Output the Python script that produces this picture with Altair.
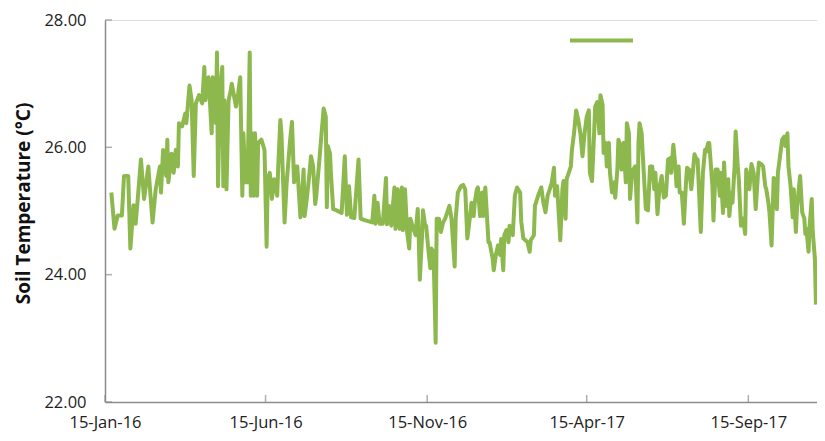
import altair as alt
import pandas as pd

# Days since 15-Jan-2016 and daily soil temperature (°C)
days = [6, 9, 12, 16, 18, 22, 24, 27, 29, 31, 34, 37, 41, 45, 48, 52, 53, 55, 58, 59,
        60, 63, 65, 67, 69, 70, 73, 76, 77, 80, 82, 84, 86, 89, 92, 94, 95, 98, 101, 102,
        105, 106, 107, 109, 111, 112, 113, 115, 117, 119, 120, 124, 126, 128, 130, 131, 133, 135, 137, 138,
        139, 141, 142, 144, 145, 148, 151, 153, 154, 156, 158, 160, 163, 164, 166, 167, 170, 172, 175, 177,
        179, 180, 182, 185, 186, 188, 189, 191, 193, 195, 197, 199, 200, 203, 205, 207, 209, 210, 211, 213,
        214, 216, 218, 224, 227, 229, 231, 233, 236, 240, 242, 245, 253, 255, 256, 258, 260, 263, 266, 267,
        269, 271, 274, 275, 277, 279, 281, 282, 284, 286, 288, 289, 292, 294, 296, 297, 298, 300, 301, 303,
        304, 306, 308, 309, 311, 313, 314, 316, 318, 320, 322, 324, 326, 328, 331, 332, 334, 337, 339, 341,
        343, 346, 347, 349, 350, 352, 353, 355, 357, 358, 360, 363, 364, 367, 368, 370, 372, 374, 375, 377,
        378, 380, 382, 383, 386, 388, 390, 393, 394, 396, 398, 400, 402, 403, 406, 407, 410, 413, 415, 417,
        419, 421, 423, 425, 426, 428, 431, 433, 434, 436, 437, 439, 441, 442, 444, 446, 448, 450, 452, 454,
        456, 458, 459, 461, 463, 464, 466, 468, 469, 471, 472, 474, 475, 477, 478, 480, 482, 483, 485, 486,
        488, 489, 491, 493, 494, 496, 497, 499, 500, 502, 504, 505, 506, 508, 510, 512, 514, 516, 518, 520,
        521, 523, 525, 527, 529, 531, 533, 535, 536, 538, 540, 541, 543, 544, 546, 548, 550, 551, 553, 555,
        557, 558, 560, 561, 564, 566, 568, 569, 571, 572, 575, 576, 578, 580, 582, 583, 585, 586, 588, 590,
        591, 593, 594, 596, 597, 599, 600, 602, 604, 606, 607, 609, 610, 612, 614, 616, 618, 619, 621, 623,
        625, 626, 628, 629, 631, 633, 634, 636, 637, 639, 641, 643, 644, 646, 647, 649, 651, 652, 654, 655,
        657, 658, 660, 662, 663, 664, 666, 667, 669, 670, 672, 673]

temps = [25.29, 24.72, 24.93, 24.93, 25.55, 25.55, 24.41, 25.09, 24.80, 25.19, 25.81, 25.19, 25.70, 24.82, 25.34, 25.70, 25.29, 25.96, 25.55, 26.12,
         25.45, 25.90, 25.60, 25.96, 25.70, 26.38, 26.33, 26.53, 26.38, 26.97, 26.74, 25.55, 26.69, 26.82, 26.69, 27.26, 26.74, 27.10, 26.22, 27.10,
         26.38, 27.49, 25.39, 26.95, 27.26, 25.39, 26.74, 25.34, 26.74, 26.89, 27.00, 26.64, 26.84, 27.10, 25.24, 26.22, 25.45, 25.45, 27.49, 25.24,
         26.22, 25.24, 26.22, 25.24, 26.07, 26.12, 25.96, 24.44, 25.50, 25.60, 25.19, 25.50, 25.24, 25.70, 26.43, 26.22, 24.82, 25.45, 26.07, 26.40,
         25.45, 25.70, 25.70, 24.90, 25.08, 25.65, 24.92, 25.19, 25.50, 25.86, 25.70, 25.11, 25.24, 25.81, 26.22, 26.61, 26.48, 25.06, 26.02, 25.90,
         25.55, 25.03, 25.02, 24.97, 25.86, 24.94, 25.39, 24.90, 24.89, 25.81, 24.88, 24.86, 24.82, 25.24, 24.80, 25.13, 24.80, 24.80, 25.52, 24.79,
         25.08, 24.77, 25.37, 24.72, 25.34, 24.72, 25.37, 24.70, 25.34, 24.67, 24.41, 24.88, 24.72, 24.62, 25.03, 24.56, 23.92, 24.56, 25.01, 24.77,
         24.77, 24.41, 24.10, 24.41, 24.36, 22.93, 24.88, 24.88, 24.67, 24.82, 24.88, 24.98, 25.08, 24.88, 24.13, 24.88, 25.29, 25.39, 25.41, 25.34,
         24.57, 24.98, 25.13, 24.92, 25.13, 25.34, 25.37, 24.92, 25.29, 24.92, 25.37, 24.51, 24.51, 24.25, 24.07, 24.31, 24.46, 24.31, 24.56, 24.07,
         24.62, 24.70, 24.51, 24.77, 24.62, 25.24, 25.37, 25.29, 24.84, 24.57, 24.54, 24.51, 24.36, 24.54, 24.62, 25.08, 25.24, 25.37, 25.13, 24.98,
         25.24, 25.34, 25.45, 25.68, 25.24, 25.39, 24.54, 25.34, 25.47, 24.88, 25.50, 25.60, 25.70, 25.96, 26.22, 26.58, 26.43, 26.22, 25.86, 26.22,
         26.48, 26.58, 25.60, 25.47, 26.22, 26.64, 26.71, 26.22, 26.82, 26.67, 25.91, 26.07, 25.70, 26.07, 25.60, 25.29, 25.45, 25.21, 25.65, 26.12,
         26.02, 25.65, 26.07, 25.45, 26.38, 26.22, 25.19, 25.60, 25.65, 25.70, 24.82, 26.07, 26.38, 26.22, 25.60, 25.03, 25.01, 25.70, 25.70, 25.34,
         25.60, 24.95, 25.39, 25.55, 25.21, 25.24, 25.81, 25.83, 25.60, 26.04, 25.70, 25.39, 25.70, 25.29, 25.29, 24.80, 25.45, 25.68, 25.65, 25.34,
         25.70, 25.89, 25.81, 25.81, 24.67, 25.60, 25.96, 25.93, 26.07, 26.07, 25.39, 24.85, 25.65, 25.65, 25.24, 25.60, 24.97, 25.76, 25.08, 25.50,
         24.92, 25.29, 25.13, 25.70, 26.25, 25.70, 25.50, 24.77, 24.88, 24.64, 25.65, 25.50, 25.34, 25.74, 25.60, 25.03, 25.55, 25.76, 25.74, 25.70,
         25.39, 25.34, 25.13, 24.98, 24.46, 25.52, 25.50, 25.03, 25.60, 25.86, 26.12, 26.17, 26.02, 26.22, 25.70, 25.39, 24.90, 25.34, 24.67, 25.03,
         25.39, 25.55, 24.98, 24.88, 24.64, 24.72, 24.36, 24.77, 25.19, 24.67, 24.25, 23.53]

start_date = "2016-01-15"
end_date = "2017-11-19"
x_tick_dates = ["2016-01-15", "2016-06-15", "2016-11-15", "2017-04-15", "2017-09-15"]
y_ticks = [22, 24, 26, 28]
series_name = "Soil Temperature"
green = "#8DB84E"
axis_gray = "#8C8C8C"

dates = (pd.Timestamp(start_date) + pd.to_timedelta(days, unit="D")).strftime("%Y-%m-%dT00:00:00Z")
df = pd.DataFrame({"date": dates, "temp": temps, "series": series_name})

def dt(s):
    t = pd.Timestamp(s)
    return alt.DateTime(year=t.year, month=t.month, date=t.day, utc=True)

x_scale = alt.Scale(type="utc", domain=[dt(start_date), dt(end_date)])
y_scale = alt.Scale(domain=[22, 28], nice=False, zero=False)

x_axis = alt.Axis(values=[dt(s) for s in x_tick_dates],
                  labelExpr="utcFormat(datum.value, '%d-%b-%y')",
                  title=None, grid=False, ticks=False, labelFlush=False, labelPadding=12,
                  labelFontSize=16.5, labelFont="Open Sans", labelColor="#222222",
                  domainColor=axis_gray, domainWidth=1.5)
y_axis = alt.Axis(values=y_ticks, format=".2f", title="Soil Temperature (°C)", grid=False,
                  ticks=False, labelPadding=19, labelFontSize=16.5, labelFont="Open Sans",
                  labelColor="#222222", titleFont="Open Sans", titleFontSize=19,
                  titleFontWeight="bold", titleColor="#111111", titleX=-72, titleY=183,
                  domainColor=axis_gray, domainWidth=1.5)

line = alt.Chart(df).mark_line(strokeWidth=4, strokeJoin="round").encode(
    x=alt.X("date:T", scale=x_scale, axis=x_axis),
    y=alt.Y("temp:Q", scale=y_scale, axis=y_axis),
    color=alt.Color("series:N", scale=alt.Scale(range=[green]),
                    legend=alt.Legend(orient="none", legendX=463, legendY=-13, title=None,
                                      labelExpr="''", symbolType="stroke", symbolSize=3969,
                                      symbolStrokeWidth=4, padding=0)),
)

xt_df = pd.DataFrame({"date": [s + "T00:00:00Z" for s in x_tick_dates]})
x_ticks = alt.Chart(xt_df).mark_tick(orient="vertical", size=7, thickness=1.5, color=axis_gray,
                                      yOffset=-3.5).encode(
    x=alt.X("date:T", scale=x_scale),
    y=alt.datum(22),
)

yt_df = pd.DataFrame({"v": y_ticks})
y_tick_marks = alt.Chart(yt_df).mark_tick(orient="horizontal", size=7, thickness=1.5, color=axis_gray,
                                          xOffset=3.5).encode(
    y=alt.Y("v:Q", scale=y_scale),
    x=alt.datum(dt(start_date)),
)

chart = alt.layer(line, x_ticks, y_tick_marks).properties(
    width=712, height=382,
    padding={"left": 97, "top": 12, "right": 0, "bottom": 31},
    autosize=alt.AutoSizeParams(type="none"),
).configure_view(stroke=None).configure(background="white")

chart.save("out.html", embed_options={"renderer": "svg", "actions": False})
